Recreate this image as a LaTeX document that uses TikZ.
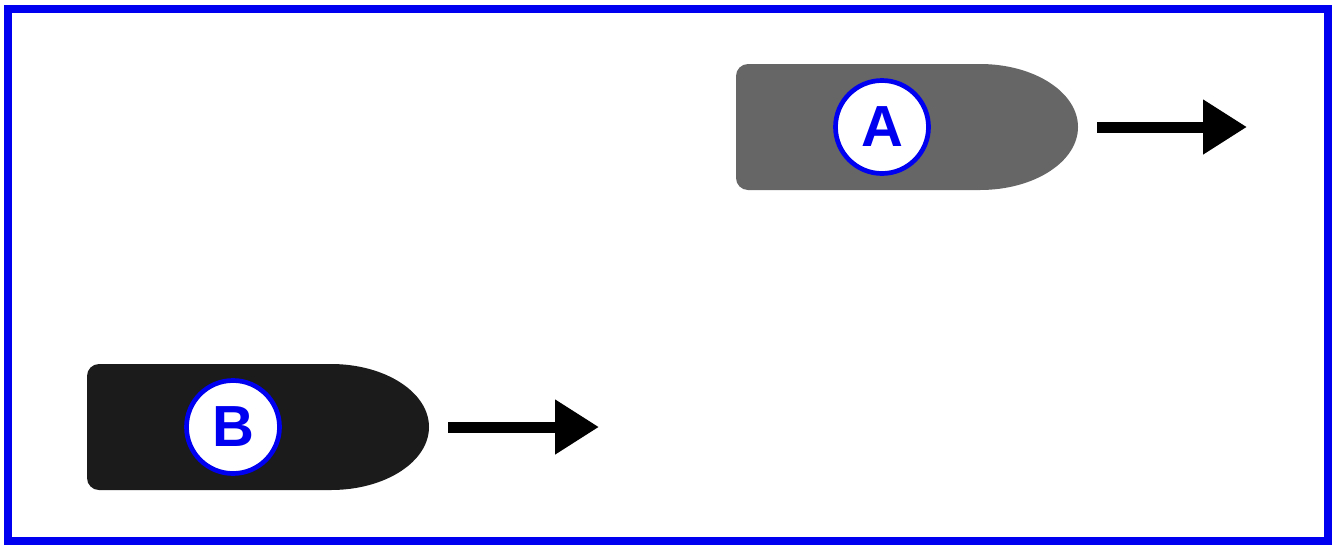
\documentclass[tikz,border=0pt]{standalone}
\usepackage{fontspec}
\newfontfamily\boatfont{Liberation Sans}
\usetikzlibrary{arrows.meta}
\definecolor{frameblue}{RGB}{0,0,240}
\definecolor{hullA}{RGB}{102,102,102}
\definecolor{hullB}{RGB}{27,27,27}
\tikzset{
  badge/.style={circle, draw=frameblue, fill=white, line width=4.7pt,
    minimum size=93pt, inner sep=0pt, text=frameblue,
    font=\boatfont\bfseries\fontsize{58}{58}\selectfont},
  heading/.style={line width=11pt, -{Triangle[length=44pt,width=52pt]}},
}
\begin{document}
\begin{tikzpicture}[x=1pt,y=-1pt]
  \useasboundingbox (0,0) rectangle (1332,544);
  \draw[frameblue, line width=8pt] (8,9) rectangle (1328,541);
  % boat A
  \fill[hullA] (980,64) arc[start angle=-90,end angle=90,x radius=98,y radius=63]
    -- (748,190) arc[start angle=90,end angle=180,radius=12]
    -- (736,76) arc[start angle=180,end angle=270,radius=12] -- cycle;
  \node[badge] (A) at (882,127) {A};
  \coordinate (A-tail) at (1097,127);
  \coordinate (A-head) at (1247,127);
  % boat B
  \fill[hullB] (331,364) arc[start angle=-90,end angle=90,x radius=98,y radius=63]
    -- (99,490) arc[start angle=90,end angle=180,radius=12]
    -- (87,376) arc[start angle=180,end angle=270,radius=12] -- cycle;
  \node[badge] (B) at (233,427) {B};
  \coordinate (B-tail) at (448,427);
  \coordinate (B-head) at (599,427);
  \begin{scope}[heading]
    \draw (A-tail) to (A-head);
    \draw (B-tail) to (B-head);
  \end{scope}
\end{tikzpicture}
\end{document}
